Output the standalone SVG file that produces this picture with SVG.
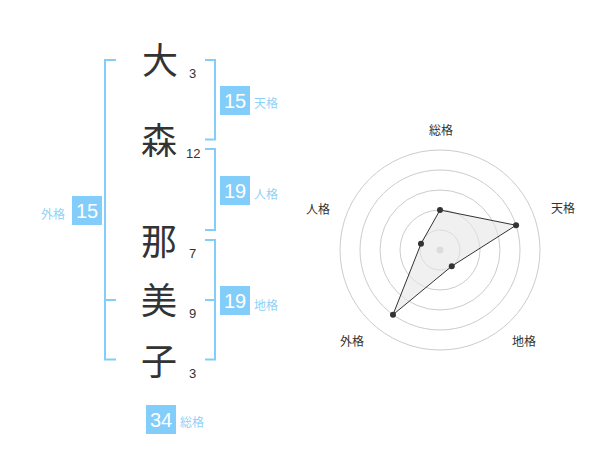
<svg xmlns="http://www.w3.org/2000/svg" width="600" height="470" viewBox="0 0 600 470">
<style>
.kanji{font-family:"Noto Sans CJK JP","Noto Sans",sans-serif;font-size:36px;fill:#333;text-anchor:middle}
.strk{font-family:"Liberation Sans",Arial,sans-serif;font-size:13px;fill:#333}
.br{fill:none;stroke:#82cdfa;stroke-width:2}
.box{fill:#82cdfa}
.bnum{font-family:"Liberation Sans",Arial,sans-serif;font-size:20px;fill:#fff;text-anchor:middle}
.blab{font-family:"Noto Sans CJK JP",sans-serif;font-size:12px;fill:#8fd2f7}
.ring{fill:none;stroke:#ccc;stroke-width:1}
.rlab{font-family:"Noto Sans CJK JP",sans-serif;font-size:12px;fill:#333;text-anchor:middle}
.pt{fill:#333}
</style>
<rect width="600" height="470" fill="#fff"/>
<g id="name">
<text class="kanji" x="160" y="74">大</text>
<text class="kanji" x="159" y="154">森</text>
<text class="kanji" x="159" y="255">那</text>
<text class="kanji" x="159" y="314">美</text>
<text class="kanji" x="159" y="375">子</text>
<text class="strk" x="189" y="77.5">3</text>
<text class="strk" x="186" y="158">12</text>
<text class="strk" x="189" y="257.5">7</text>
<text class="strk" x="189" y="318">9</text>
<text class="strk" x="189" y="378">3</text>
</g>
<g id="connectors">
<path class="br" d="M205,60 H215 V139.5 H205"/>
<path class="br" d="M205,149 H215 V230 H205"/>
<path class="br" d="M205,240 H215 V359.5 H205 M205,300 H215"/>
<path class="br" d="M116,60 H105 V359.5 H116 M105,300 H116"/>
</g>
<g id="tenkaku">
<rect class="box" x="220" y="86" width="30" height="29"/>
<text class="bnum" x="235" y="107.5">15</text>
<text class="blab" x="254" y="108">天格</text>
</g>
<g id="jinkaku">
<rect class="box" x="220" y="176" width="30" height="29"/>
<text class="bnum" x="235" y="197.5">19</text>
<text class="blab" x="254" y="198.5">人格</text>
</g>
<g id="chikaku">
<rect class="box" x="220" y="286" width="30" height="29"/>
<text class="bnum" x="235" y="307.5">19</text>
<text class="blab" x="254" y="309.5">地格</text>
</g>
<g id="gaikaku">
<rect class="box" x="72" y="196" width="30" height="29"/>
<text class="bnum" x="87" y="217.5">15</text>
<text class="blab" x="41" y="218.5">外格</text>
</g>
<g id="soukaku">
<rect class="box" x="146" y="405" width="30" height="29"/>
<text class="bnum" x="161" y="426.5">34</text>
<text class="blab" x="180" y="427">総格</text>
</g>
<g id="radar">
<circle class="ring" cx="440" cy="250" r="20"/>
<circle class="ring" cx="440" cy="250" r="40"/>
<circle class="ring" cx="440" cy="250" r="60"/>
<circle class="ring" cx="440" cy="250" r="80"/>
<circle class="ring" cx="440" cy="250" r="100"/>
<circle cx="440" cy="250" r="3.5" fill="#ccc"/>
<polygon points="440,210 516.08,225.28 451.76,266.18 392.98,314.72 420.98,243.82" fill="#e6e6e6" fill-opacity="0.6" stroke="#333" stroke-width="1"/>
<circle class="pt" cx="440" cy="210" r="3"/>
<circle class="pt" cx="516.08" cy="225.28" r="3"/>
<circle class="pt" cx="451.76" cy="266.18" r="3"/>
<circle class="pt" cx="392.98" cy="314.72" r="3"/>
<circle class="pt" cx="420.98" cy="243.82" r="3"/>
<text class="rlab" x="441" y="135">総格</text>
<text class="rlab" x="563" y="213">天格</text>
<text class="rlab" x="524" y="346">地格</text>
<text class="rlab" x="352" y="346">外格</text>
<text class="rlab" x="318" y="213.5">人格</text>
</g>
</svg>
